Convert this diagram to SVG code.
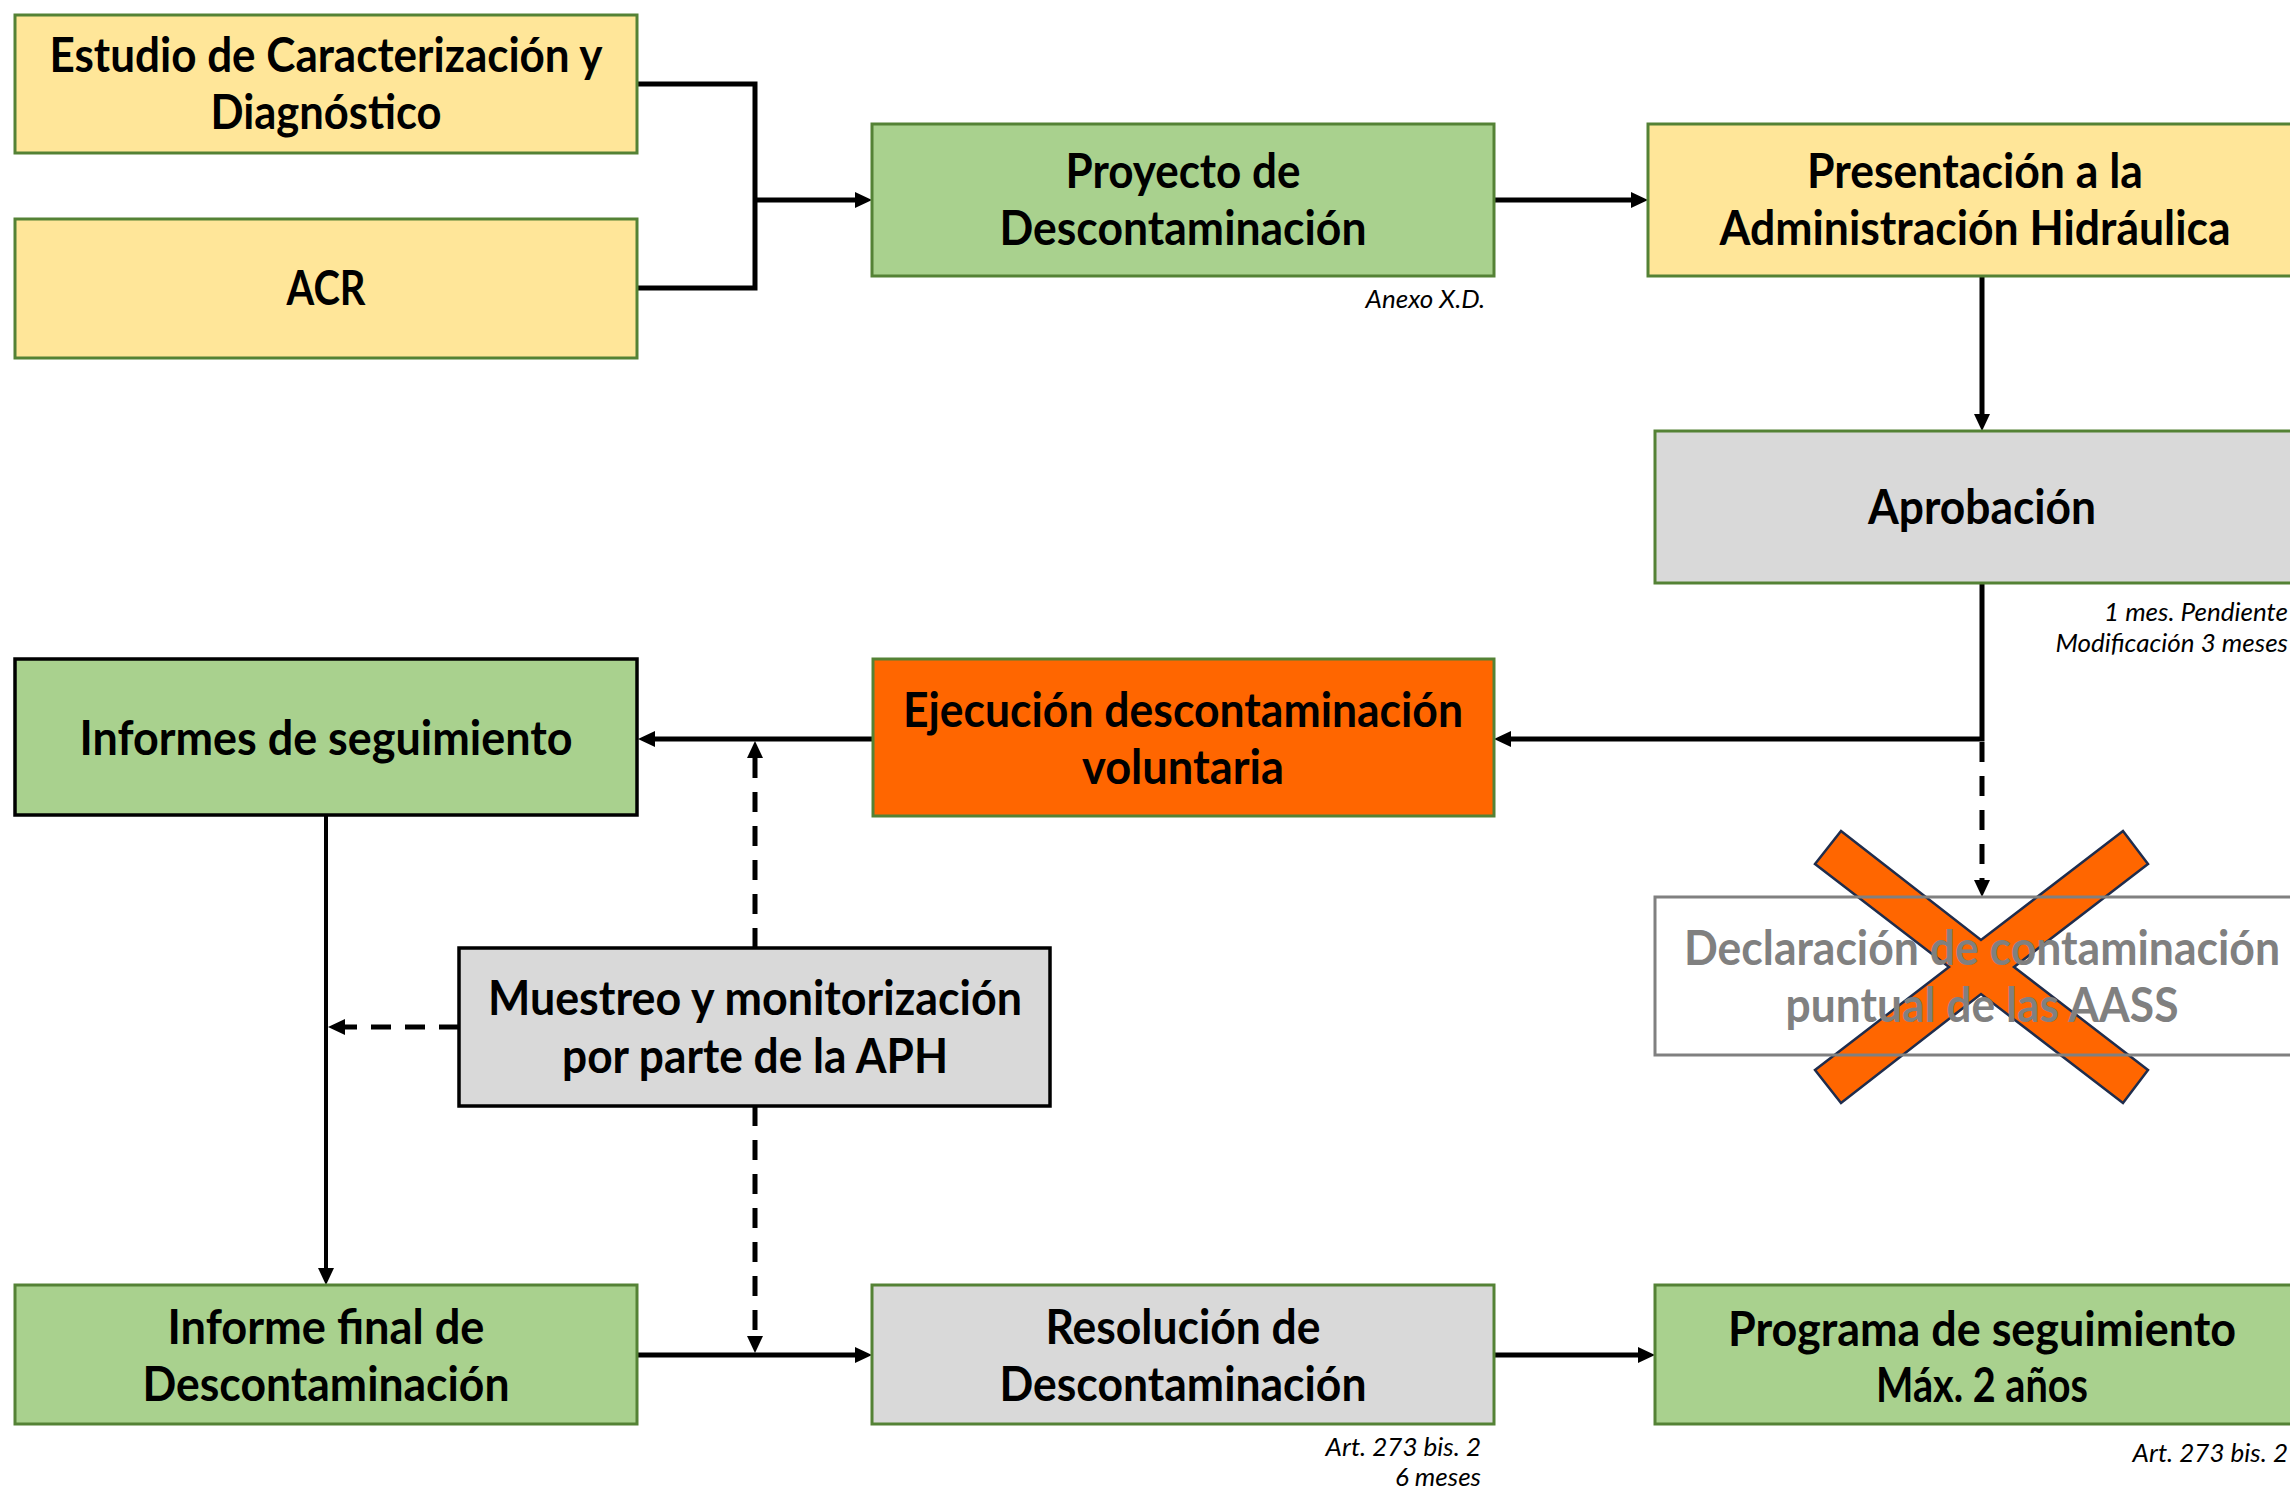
<svg xmlns="http://www.w3.org/2000/svg" width="2290" height="1488" viewBox="0 0 2290 1488">
<style>
.yel{fill:#FFE699;stroke:#548235;stroke-width:3}
.grn{fill:#A9D18E;stroke:#548235;stroke-width:3}
.gry{fill:#D9D9D9;stroke:#548235;stroke-width:3}
.org{fill:#FF6600;stroke:#548235;stroke-width:3}
.t{font-family:Lato,"Open Sans",sans-serif;font-weight:bold;font-size:47px;fill:#000;text-anchor:middle}
.tg{fill:#808080}
.n{font-family:Lato,"Open Sans",sans-serif;font-style:italic;font-size:26px;fill:#000;text-anchor:end}
.c{fill:none;stroke:#000;stroke-width:5}
.d{stroke-dasharray:20 14}
</style>
<defs>
<marker id="a" markerUnits="userSpaceOnUse" markerWidth="18" markerHeight="16" refX="7" refY="8" orient="auto"><path d="M0,0 L17,8 L0,16 z" fill="#000"/></marker>
</defs>
<rect width="2290" height="1488" fill="#fff"/>

<g id="connectors">
<path class="c" d="M637,84 H755 V288 H637"/>
<path class="c" d="M755,200 H862" marker-end="url(#a)"/>
<path class="c" d="M1495,200 H1638" marker-end="url(#a)"/>
<path class="c" d="M1982,276 V421" marker-end="url(#a)"/>
<path class="c" d="M1982,583 V739 H1504" marker-end="url(#a)"/>
<path class="c d" d="M1982,742 V887" marker-end="url(#a)"/>
<path class="c" d="M873,739 H648" marker-end="url(#a)"/>
<path class="c d" d="M755,948 V751" marker-end="url(#a)"/>
<path class="c d" d="M459,1027 H338" marker-end="url(#a)"/>
<path class="c" style="stroke-width:4" d="M326,815 V1275" marker-end="url(#a)"/>
<path class="c d" d="M755,1106 V1343" marker-end="url(#a)"/>
<path class="c" d="M637,1355 H862" marker-end="url(#a)"/>
<path class="c" d="M1495,1355 H1645" marker-end="url(#a)"/>
</g>

<g id="estudio">
<rect class="yel" x="15" y="15" width="622" height="138"/>
<text class="t" x="326" y="72" textLength="553" lengthAdjust="spacingAndGlyphs">Estudio de Caracterización y</text>
<text class="t" x="326" y="129" textLength="231" lengthAdjust="spacingAndGlyphs">Diagnóstico</text>
</g>
<g id="acr">
<rect class="yel" x="15" y="219" width="622" height="139"/>
<text class="t" x="326" y="305" textLength="79" lengthAdjust="spacingAndGlyphs">ACR</text>
</g>
<g id="proyecto">
<rect class="grn" x="872" y="124" width="622" height="152"/>
<text class="t" x="1183" y="188" textLength="235" lengthAdjust="spacingAndGlyphs">Proyecto de</text>
<text class="t" x="1183" y="245" textLength="367" lengthAdjust="spacingAndGlyphs">Descontaminación</text>
</g>
<g id="presentacion">
<rect class="yel" x="1648" y="124" width="660" height="152"/>
<text class="t" x="1975" y="188" textLength="336" lengthAdjust="spacingAndGlyphs">Presentación a la</text>
<text class="t" x="1975" y="245" textLength="511" lengthAdjust="spacingAndGlyphs">Administración Hidráulica</text>
</g>
<g id="aprobacion">
<rect class="gry" x="1655" y="431" width="660" height="152"/>
<text class="t" x="1982" y="524" textLength="228" lengthAdjust="spacingAndGlyphs">Aprobación</text>
</g>
<g id="informes">
<rect class="grn" style="stroke:#000;stroke-width:3.5" x="15" y="659" width="622" height="156"/>
<text class="t" x="326" y="755" textLength="493" lengthAdjust="spacingAndGlyphs">Informes de seguimiento</text>
</g>
<g id="ejecucion">
<rect class="org" x="873" y="659" width="621" height="157"/>
<text class="t" x="1183" y="727" textLength="560" lengthAdjust="spacingAndGlyphs">Ejecución descontaminación</text>
<text class="t" x="1183" y="784" textLength="202" lengthAdjust="spacingAndGlyphs">voluntaria</text>
</g>
<g id="declaracion">
<polygon points="1841,831 1981,940 2123,831 2148,864 2014,967 2148,1070 2123,1103 1981,994 1841,1103 1815,1070 1949,967 1815,864" fill="#FF6600" stroke="#1F2D4D" stroke-width="2.5"/>
<rect x="1655" y="897" width="660" height="158" fill="none" stroke="#808080" stroke-width="3"/>
<text class="t tg" x="1982" y="965" textLength="596" lengthAdjust="spacingAndGlyphs">Declaración de contaminación</text>
<text class="t tg" x="1982" y="1022" textLength="393" lengthAdjust="spacingAndGlyphs">puntual de las AASS</text>
</g>
<g id="muestreo">
<rect class="gry" style="stroke:#000;stroke-width:3.5" x="459" y="948" width="591" height="158"/>
<text class="t" x="755" y="1015" textLength="534" lengthAdjust="spacingAndGlyphs">Muestreo y monitorización</text>
<text class="t" x="755" y="1073" textLength="386" lengthAdjust="spacingAndGlyphs">por parte de la APH</text>
</g>
<g id="informe-final">
<rect class="grn" x="15" y="1285" width="622" height="139"/>
<text class="t" x="326" y="1344" textLength="317" lengthAdjust="spacingAndGlyphs">Informe final de</text>
<text class="t" x="326" y="1401" textLength="367" lengthAdjust="spacingAndGlyphs">Descontaminación</text>
</g>
<g id="resolucion">
<rect class="gry" x="872" y="1285" width="622" height="139"/>
<text class="t" x="1183" y="1344" textLength="275" lengthAdjust="spacingAndGlyphs">Resolución de</text>
<text class="t" x="1183" y="1401" textLength="367" lengthAdjust="spacingAndGlyphs">Descontaminación</text>
</g>
<g id="programa">
<rect class="grn" x="1655" y="1285" width="660" height="139"/>
<text class="t" x="1982" y="1346" textLength="508" lengthAdjust="spacingAndGlyphs">Programa de seguimiento</text>
<text class="t" x="1982" y="1402" textLength="212" lengthAdjust="spacingAndGlyphs">Máx. 2 años</text>
</g>

<g id="notes">
<text class="n" x="1485" y="308">Anexo X.D.</text>
<text class="n" x="2288" y="621">1 mes. Pendiente</text>
<text class="n" x="2288" y="652">Modificación 3 meses</text>
<text class="n" x="1481" y="1456">Art. 273 bis. 2</text>
<text class="n" x="1481" y="1486">6 meses</text>
<text class="n" x="2288" y="1462">Art. 273 bis. 2</text>
</g>
</svg>
